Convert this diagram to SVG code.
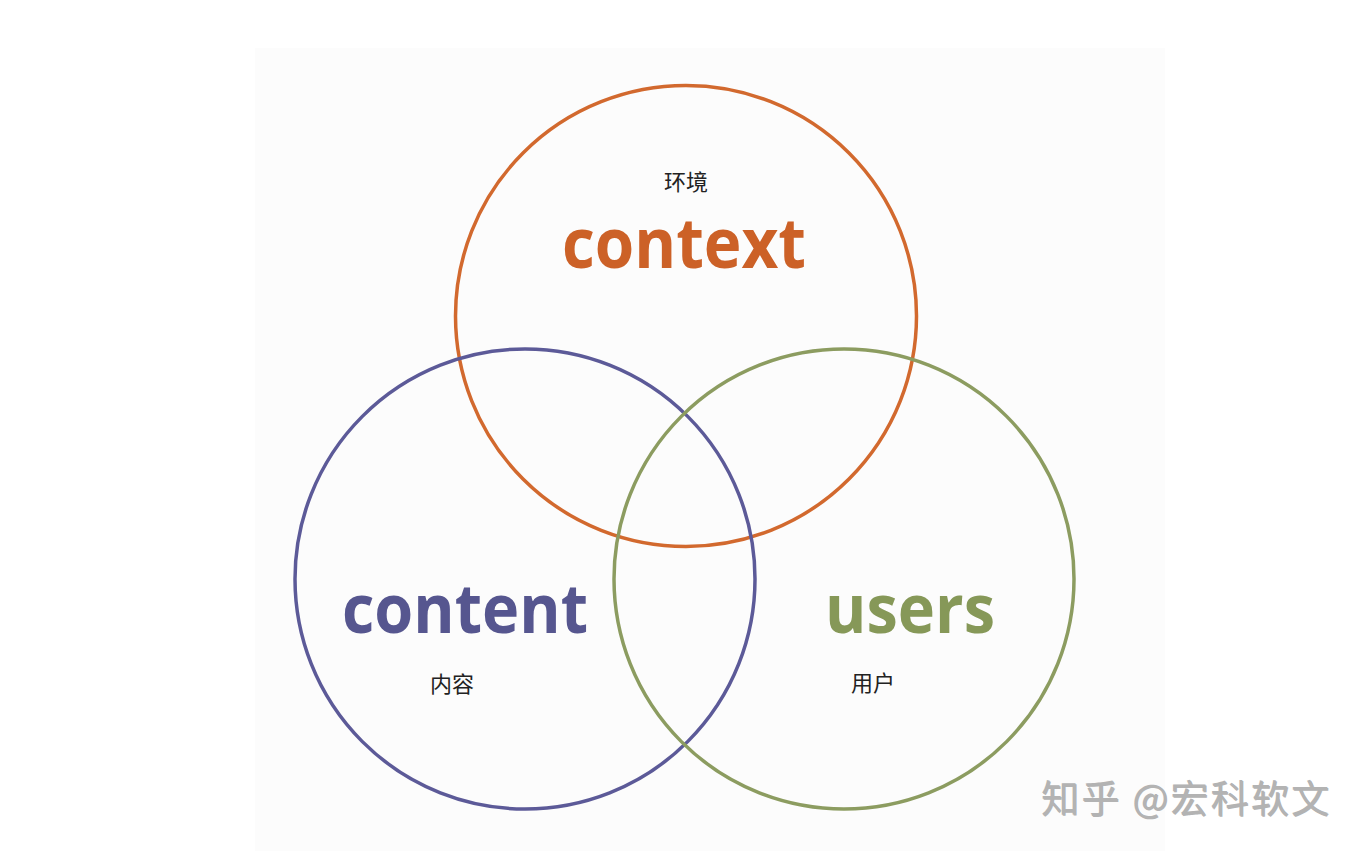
<svg xmlns="http://www.w3.org/2000/svg" width="1365" height="851" viewBox="0 0 1365 851">
<style>
.ring{fill:none;stroke-width:3.5}
.big{font-family:"Open Sans","Noto Sans","Liberation Sans",sans-serif;font-weight:bold;text-anchor:middle}
.cn{font-family:"Noto Sans CJK SC","Noto Sans",sans-serif;font-size:22px;fill:#222;text-anchor:middle}
.wm{font-family:"Noto Sans CJK SC","Noto Sans",sans-serif;font-size:38px;fill:#b3b3b3}
</style>
<rect x="0" y="0" width="1365" height="851" fill="#ffffff"/>
<rect x="255" y="48" width="910" height="803" fill="#fcfcfc"/>
<g id="context">
<circle class="ring" cx="686" cy="316" r="230.5" stroke="#d2692e"/>
<text class="cn" x="686" y="190">环境</text>
<text class="big" x="684" y="268" font-size="70" fill="#cc6127" textLength="244" lengthAdjust="spacingAndGlyphs">context</text>
</g>
<g id="content">
<circle class="ring" cx="525" cy="579" r="230" stroke="#5c5a98"/>
<text class="big" x="465" y="633" font-size="68" fill="#56568f" textLength="246" lengthAdjust="spacingAndGlyphs">content</text>
<text class="cn" x="452" y="692">内容</text>
</g>
<g id="users">
<circle class="ring" cx="844" cy="579" r="230" stroke="#8c9c60"/>
<text class="big" x="910" y="633" font-size="68" fill="#869858" textLength="170" lengthAdjust="spacingAndGlyphs">users</text>
<text class="cn" x="873" y="691">用户</text>
</g>
<g id="connectors"></g>
<g id="watermark">
<text class="wm" x="1041" y="812" fill="#e6e6e6" transform="translate(1,1)" textLength="288">知乎 @宏科软文</text>
<text class="wm" x="1041" y="812" textLength="288">知乎 @宏科软文</text>
</g>
</svg>
